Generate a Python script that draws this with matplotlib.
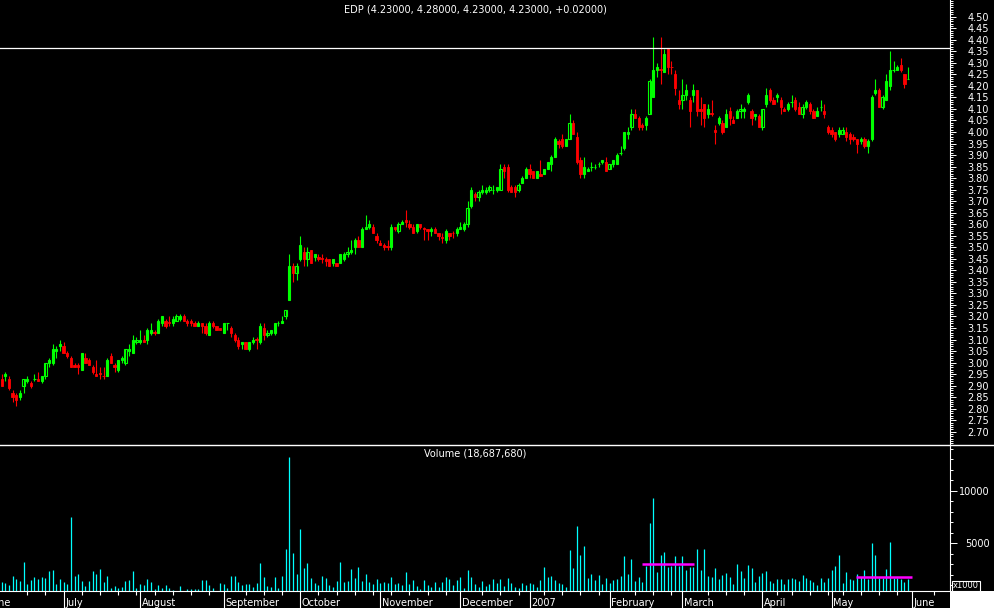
import numpy as np
import pandas as pd
import matplotlib
matplotlib.use("Agg")
import matplotlib.pyplot as plt
from matplotlib.ticker import FixedLocator, MultipleLocator, NullFormatter, FormatStrFormatter
from matplotlib.transforms import blended_transform_factory
from matplotlib.patches import Rectangle
from matplotlib.lines import Line2D

GREEN = "#00ff00"
RED = "#ff0000"
CYAN = "#00ffff"
MAGENTA = "#ff00ff"

# daily OHLC, EDP, 8 Jun 2006 - 31 May 2007
opens = [
    2.93, 2.94, 2.93, 2.87, 2.86, 2.85, 2.90, 2.92, 2.91, 2.93, 2.93, 2.92, 2.94, 3.00, 3.00, 3.05, 3.07, 3.07, 3.04, 3.02,
    2.99, 2.99, 2.97, 3.02, 3.01, 2.98, 2.95, 2.954, 2.944, 2.94, 3.03, 2.99, 2.97, 3.01, 3.00, 3.05, 3.04, 3.09, 3.09, 3.10,
    3.10, 3.13, 3.134, 3.13, 3.17, 3.18, 3.174, 3.17, 3.18, 3.19, 3.20, 3.18, 3.18, 3.17, 3.16, 3.17, 3.16, 3.12, 3.17, 3.16,
    3.15, 3.13, 3.17, 3.15, 3.12, 3.10, 3.08, 3.09, 3.06, 3.09, 3.104, 3.09, 3.15, 3.12, 3.13, 3.13, 3.17, 3.17, 3.20, 3.27,
    3.42, 3.39, 3.45, 3.48, 3.45, 3.49, 3.46, 3.46, 3.454, 3.45, 3.45, 3.43, 3.43, 3.43, 3.45, 3.47, 3.48, 3.50, 3.53, 3.50,
    3.58, 3.59, 3.59, 3.55, 3.52, 3.51, 3.504, 3.50, 3.59, 3.57, 3.60, 3.62, 3.60, 3.59, 3.57, 3.60, 3.584, 3.58, 3.57, 3.58,
    3.56, 3.544, 3.53, 3.56, 3.564, 3.56, 3.58, 3.58, 3.60, 3.68, 3.73, 3.72, 3.74, 3.74, 3.75, 3.75, 3.75, 3.75, 3.85, 3.85,
    3.76, 3.76, 3.75, 3.78, 3.80, 3.84, 3.83, 3.80, 3.82, 3.82, 3.84, 3.86, 3.89, 3.96, 3.97, 3.94, 3.97, 4.04, 3.98, 3.88,
    3.82, 3.83, 3.85, 3.85, 3.86, 3.87, 3.87, 3.84, 3.86, 3.86, 3.91, 3.93, 3.99, 4.02, 4.08, 4.06, 4.03, 4.03, 4.08, 4.15,
    4.27, 4.274, 4.26, 4.36, 4.284, 4.25, 4.14, 4.14, 4.16, 4.14, 4.16, 4.18, 4.10, 4.12, 4.08, 4.084, 4.01, 4.04, 4.04, 4.02,
    4.09, 4.05, 4.06, 4.09, 4.09, 4.13, 4.09, 4.07, 4.07, 4.02, 4.12, 4.18, 4.14, 4.15, 4.14, 4.10, 4.10, 4.13, 4.14, 4.11,
    4.08, 4.11, 4.12, 4.09, 4.07, 4.11, 4.09, 4.02, 4.01, 4.00, 3.99, 3.99, 4.00, 3.99, 3.98, 3.97, 3.96, 3.97, 3.94, 3.97,
    4.17, 4.18, 4.11, 4.14, 4.20, 4.27, 4.27, 4.29, 4.25, 4.23,
]
highs = [
    2.95, 2.96, 2.94, 2.88, 2.87, 2.88, 2.93, 2.94, 2.92, 2.95, 2.96, 2.94, 3.00, 3.02, 3.08, 3.07, 3.10, 3.09, 3.05, 3.03,
    3.00, 3.00, 3.04, 3.04, 3.02, 2.99, 3.01, 2.98, 2.98, 3.02, 3.04, 3.00, 3.01, 3.03, 3.06, 3.08, 3.12, 3.11, 3.14, 3.12,
    3.15, 3.17, 3.14, 3.19, 3.20, 3.19, 3.20, 3.20, 3.21, 3.21, 3.21, 3.19, 3.19, 3.18, 3.18, 3.17, 3.17, 3.18, 3.18, 3.16,
    3.15, 3.17, 3.17, 3.16, 3.13, 3.11, 3.09, 3.09, 3.09, 3.11, 3.11, 3.17, 3.17, 3.14, 3.14, 3.17, 3.18, 3.20, 3.23, 3.47,
    3.43, 3.43, 3.55, 3.50, 3.50, 3.49, 3.47, 3.47, 3.47, 3.46, 3.45, 3.45, 3.43, 3.47, 3.48, 3.50, 3.53, 3.54, 3.55, 3.59,
    3.64, 3.62, 3.60, 3.56, 3.53, 3.52, 3.53, 3.60, 3.59, 3.61, 3.62, 3.66, 3.62, 3.60, 3.60, 3.60, 3.59, 3.58, 3.59, 3.59,
    3.56, 3.56, 3.58, 3.56, 3.57, 3.59, 3.61, 3.61, 3.70, 3.76, 3.74, 3.75, 3.77, 3.76, 3.77, 3.77, 3.76, 3.86, 3.86, 3.86,
    3.77, 3.77, 3.78, 3.81, 3.85, 3.86, 3.83, 3.83, 3.88, 3.84, 3.87, 3.90, 3.98, 3.97, 3.99, 3.97, 4.08, 4.05, 4.00, 3.89,
    3.89, 3.85, 3.87, 3.86, 3.87, 3.88, 3.89, 3.86, 3.88, 3.91, 3.94, 4.00, 4.02, 4.10, 4.10, 4.07, 4.04, 4.07, 4.23, 4.41,
    4.30, 4.41, 4.36, 4.36, 4.31, 4.27, 4.18, 4.23, 4.21, 4.15, 4.21, 4.18, 4.15, 4.12, 4.12, 4.14, 4.03, 4.07, 4.05, 4.10,
    4.11, 4.07, 4.10, 4.12, 4.11, 4.17, 4.10, 4.08, 4.08, 4.10, 4.19, 4.19, 4.15, 4.17, 4.15, 4.11, 4.13, 4.16, 4.15, 4.13,
    4.12, 4.14, 4.13, 4.10, 4.11, 4.14, 4.12, 4.03, 4.02, 4.00, 4.02, 4.02, 4.02, 4.00, 3.99, 3.97, 3.98, 3.98, 3.97, 4.16,
    4.23, 4.19, 4.16, 4.25, 4.35, 4.31, 4.29, 4.32, 4.25, 4.28,
]
lows = [
    2.90, 2.92, 2.88, 2.83, 2.81, 2.84, 2.87, 2.91, 2.89, 2.92, 2.92, 2.91, 2.93, 2.98, 2.99, 3.02, 3.05, 3.04, 3.02, 2.98,
    2.98, 2.95, 2.97, 3.00, 2.99, 2.95, 2.94, 2.93, 2.93, 2.94, 3.00, 2.96, 2.96, 3.00, 2.99, 3.03, 3.04, 3.08, 3.08, 3.09,
    3.08, 3.12, 3.12, 3.13, 3.16, 3.15, 3.16, 3.16, 3.18, 3.18, 3.18, 3.16, 3.16, 3.16, 3.16, 3.13, 3.12, 3.12, 3.15, 3.14,
    3.14, 3.13, 3.14, 3.11, 3.09, 3.06, 3.06, 3.06, 3.05, 3.08, 3.06, 3.08, 3.10, 3.11, 3.12, 3.12, 3.16, 3.17, 3.19, 3.27,
    3.35, 3.36, 3.44, 3.42, 3.42, 3.43, 3.44, 3.44, 3.43, 3.42, 3.42, 3.42, 3.42, 3.43, 3.44, 3.46, 3.47, 3.47, 3.50, 3.50,
    3.58, 3.58, 3.56, 3.52, 3.51, 3.49, 3.49, 3.49, 3.57, 3.56, 3.60, 3.59, 3.58, 3.56, 3.56, 3.58, 3.53, 3.53, 3.55, 3.56,
    3.53, 3.52, 3.52, 3.53, 3.54, 3.55, 3.58, 3.57, 3.59, 3.67, 3.70, 3.70, 3.73, 3.73, 3.74, 3.73, 3.74, 3.75, 3.80, 3.74,
    3.74, 3.72, 3.74, 3.78, 3.80, 3.80, 3.80, 3.80, 3.81, 3.82, 3.84, 3.83, 3.89, 3.93, 3.93, 3.94, 3.97, 3.99, 3.86, 3.80,
    3.80, 3.83, 3.83, 3.84, 3.85, 3.86, 3.83, 3.84, 3.85, 3.86, 3.90, 3.92, 3.97, 4.01, 4.06, 4.01, 4.01, 4.01, 4.08, 4.15,
    4.24, 4.21, 4.26, 4.25, 4.25, 4.16, 4.10, 4.10, 4.14, 4.02, 4.13, 4.07, 4.03, 4.02, 4.06, 4.07, 3.95, 4.03, 3.99, 4.02,
    4.03, 4.04, 4.06, 4.06, 4.06, 4.12, 4.03, 4.05, 4.02, 4.01, 4.11, 4.13, 4.12, 4.13, 4.08, 4.09, 4.09, 4.11, 4.09, 4.08,
    4.06, 4.10, 4.08, 4.06, 4.07, 4.09, 4.06, 3.99, 3.98, 3.96, 3.98, 3.99, 3.96, 3.95, 3.96, 3.91, 3.95, 3.93, 3.91, 3.96,
    4.16, 4.11, 4.10, 4.14, 4.18, 4.26, 4.27, 4.26, 4.19, 4.23,
]
closes = [
    2.90, 2.95, 2.89, 2.85, 2.84, 2.87, 2.93, 2.93, 2.90, 2.93, 2.92, 2.94, 3.00, 3.01, 3.06, 3.06, 3.08, 3.04, 3.03, 2.98,
    2.98, 2.98, 3.04, 3.00, 2.99, 2.96, 2.94, 2.95, 2.94, 3.01, 3.00, 2.98, 3.01, 3.02, 3.06, 3.06, 3.10, 3.10, 3.10, 3.09,
    3.14, 3.14, 3.13, 3.18, 3.20, 3.16, 3.17, 3.19, 3.20, 3.20, 3.18, 3.17, 3.17, 3.16, 3.17, 3.16, 3.13, 3.17, 3.16, 3.14,
    3.14, 3.17, 3.17, 3.13, 3.10, 3.07, 3.09, 3.06, 3.09, 3.10, 3.10, 3.16, 3.12, 3.13, 3.14, 3.17, 3.17, 3.18, 3.23, 3.42,
    3.39, 3.42, 3.51, 3.45, 3.48, 3.43, 3.47, 3.45, 3.45, 3.44, 3.42, 3.45, 3.42, 3.47, 3.47, 3.48, 3.49, 3.53, 3.50, 3.58,
    3.59, 3.60, 3.56, 3.53, 3.51, 3.50, 3.50, 3.59, 3.58, 3.60, 3.61, 3.61, 3.59, 3.56, 3.60, 3.59, 3.58, 3.57, 3.58, 3.56,
    3.55, 3.54, 3.57, 3.55, 3.56, 3.58, 3.59, 3.60, 3.67, 3.75, 3.72, 3.74, 3.75, 3.75, 3.76, 3.75, 3.76, 3.84, 3.83, 3.75,
    3.74, 3.74, 3.77, 3.80, 3.84, 3.82, 3.80, 3.83, 3.81, 3.84, 3.87, 3.89, 3.97, 3.95, 3.94, 3.97, 4.04, 3.99, 3.87, 3.82,
    3.85, 3.84, 3.85, 3.85, 3.86, 3.88, 3.83, 3.86, 3.88, 3.90, 3.91, 4.00, 4.00, 4.08, 4.06, 4.02, 4.02, 4.06, 4.22, 4.27,
    4.28, 4.27, 4.34, 4.28, 4.28, 4.19, 4.12, 4.16, 4.18, 4.09, 4.18, 4.09, 4.09, 4.06, 4.10, 4.08, 4.00, 4.06, 4.00, 4.08,
    4.06, 4.04, 4.09, 4.10, 4.10, 4.16, 4.06, 4.08, 4.02, 4.10, 4.16, 4.14, 4.12, 4.16, 4.11, 4.09, 4.12, 4.13, 4.10, 4.08,
    4.11, 4.13, 4.09, 4.06, 4.09, 4.11, 4.08, 4.00, 3.99, 3.97, 4.01, 4.01, 3.98, 3.97, 3.97, 3.95, 3.97, 3.94, 3.96, 4.15,
    4.18, 4.11, 4.15, 4.22, 4.27, 4.27, 4.28, 4.27, 4.21, 4.23,
]
# daily volume, thousands of shares
volumes = [
    1353, 1258, 1036, 1892, 1607, 1417, 3223, 1131, 1512, 1797, 1607, 1797, 1702, 2368, 2463, 1131, 1607, 1322, 1131, 7500,
    1892, 2083, 1417, 941, 1417, 2368, 2083, 2558, 1322, 1892, 751, 941, 751, 846, 1417, 1512, 2368, 751, 1131, 1036,
    1607, 1322, 656, 1036, 751, 1036, 751, 561, 400, 941, 400, 656, 656, 656, 656, 1512, 1512, 1036, 751, 400,
    1226, 1131, 751, 1892, 1892, 1322, 1036, 1131, 1131, 846, 1226, 3128, 1797, 941, 846, 1797, 751, 1892, 4459, 13175,
    4078, 2083, 6360, 2653, 3128, 1702, 1226, 1036, 1892, 1702, 1036, 846, 1417, 3223, 1322, 1417, 2558, 1702, 2748, 1417,
    2083, 1322, 1131, 1607, 1226, 1322, 1226, 1797, 1131, 1226, 1036, 2272, 1131, 1512, 941, 656, 1512, 1036, 846, 1322,
    846, 1322, 1797, 1607, 1036, 1512, 1797, 751, 2463, 1797, 1131, 846, 1417, 941, 1131, 1607, 1226, 1607, 941, 1702,
    1226, 846, 751, 1226, 1036, 1226, 1131, 846, 1512, 2747, 1797, 1892, 1512, 1226, 1131, 846, 4363, 2652, 6645, 3888,
    4743, 1702, 2082, 1512, 1987, 1131, 1702, 1226, 1512, 1607, 1892, 3793, 2082, 3508, 1416, 1797, 1321, 2842, 6930, 9306,
    2272, 3888, 4173, 2747, 2842, 3793, 2842, 3793, 2462, 2747, 2747, 4458, 2462, 4458, 1892, 1797, 2652, 1607, 1987, 2177,
    1797, 1131, 3032, 2367, 1702, 2937, 2652, 1321, 1892, 2177, 2367, 1416, 1226, 1607, 1607, 1131, 1607, 1702, 1607, 1416,
    1987, 1702, 1512, 1321, 1036, 1702, 1321, 1702, 2462, 2842, 3888, 1226, 2272, 1607, 1512, 2082, 1797, 2462, 1607, 5029,
    3888, 1702, 1702, 2557, 5124, 1702, 1702, 1607, 1321, 1607,
]
# average-volume markers: (first bar, last bar, level)
avg_volume = [(175.8, 190.2, 3000), (234.6, 250.2, 1770)]
resistance = 4.366

title = "EDP (4.23000, 4.28000, 4.23000, 4.23000, +0.02000)"
vol_title = "Volume (18,687,680)"

holidays = pd.to_datetime(["2006-12-25", "2006-12-26", "2007-01-01", "2007-04-06", "2007-04-09", "2007-05-01"])
calendar = pd.bdate_range("2006-06-08", "2007-06-29")
calendar = calendar[~calendar.isin(holidays)]

o = np.array(opens)
h = np.array(highs)
l = np.array(lows)
c = np.array(closes)
v = np.array(volumes)
x = np.arange(len(c))

W, H = 994, 608
PX0, STEP = 1.7, 3.64  # pixel of first bar, pixels per bar
RIGHT = 950


def rect(left, top, right, bottom):
    return [left / W, 1 - bottom / H, (right - left) / W, (bottom - top) / H]


fig = plt.figure(figsize=(W / 100, H / 100), dpi=100, facecolor="black")
ax = fig.add_axes(rect(0, 0, RIGHT, 445), facecolor="black")
axv = fig.add_axes(rect(0, 446, RIGHT, 591), facecolor="black")

xlim = (-PX0 / STEP, (RIGHT - PX0) / STEP)

# candles
up = c >= o
ax.vlines(x, l, h, colors=np.where(up, GREEN, RED), lw=0.8)
ax.bar(x[~up], (o - c)[~up], bottom=c[~up], width=0.62, color=RED, edgecolor=RED, lw=0.6)
ax.bar(x[up], (c - o)[up], bottom=o[up], width=0.62, facecolor="black", edgecolor=GREEN, lw=0.8)
ax.axhline(resistance, color="white", lw=0.9)

ax.set_xlim(*xlim)
ax.set_ylim(2.6427, 4.5724)
ax.set_xticks([])
ax.yaxis.set_major_locator(FixedLocator(np.round(np.arange(2.70, 4.501, 0.05), 2)))
ax.yaxis.set_minor_locator(MultipleLocator(0.01))
ax.yaxis.set_major_formatter(FormatStrFormatter("%.2f"))
ax.yaxis.tick_right()
ax.tick_params(axis="y", which="major", direction="out", length=4, width=0.7, colors="white",
               labelsize=7, pad=24)
ax.tick_params(axis="y", which="minor", direction="out", length=2, width=0.7, colors="white")
for lbl in ax.get_yticklabels():
    lbl.set_horizontalalignment("right")
for side in ["left", "top", "bottom"]:
    ax.spines[side].set_visible(False)
ax.spines["right"].set_color("white")
ax.spines["right"].set_linewidth(0.8)
ax.text(0.5, 1 - 9 / 445, title, transform=ax.transAxes, ha="center", va="center",
        color="white", fontsize=7)

# volume
axv.vlines(x, 0, v, colors=CYAN, lw=0.9)
for x0, x1, level in avg_volume:
    axv.hlines(level, x0, x1, colors=MAGENTA, lw=1.8)
axv.set_xlim(*xlim)
axv.set_ylim(466, 14249)
axv.yaxis.set_major_locator(FixedLocator([5000, 10000]))
axv.yaxis.set_minor_locator(MultipleLocator(1000))
axv.yaxis.set_major_formatter(FormatStrFormatter("%d"))
axv.yaxis.tick_right()
axv.tick_params(axis="y", which="major", direction="out", length=5, width=0.7, colors="white",
                labelsize=7, pad=23.5)
axv.tick_params(axis="y", which="minor", direction="out", length=2.5, width=0.7, colors="white")
for lbl in axv.get_yticklabels():
    lbl.set_horizontalalignment("right")
for side in ["left", "top"]:
    axv.spines[side].set_visible(False)
for side in ["right", "bottom"]:
    axv.spines[side].set_color("white")
    axv.spines[side].set_linewidth(0.8)
axv.text(0.5, (591 - 454) / 145, vol_title, transform=axv.transAxes, ha="center", va="center",
         color="white", fontsize=7)

# date axis: month starts and first trading day of each week
pos = np.arange(len(calendar))
month_start = pos[np.r_[True, calendar.month[1:] != calendar.month[:-1]]]
weeks = calendar.isocalendar().week.values
week_start = pos[np.r_[True, weeks[1:] != weeks[:-1]]]
week_start = [w for w in week_start if not any(0 <= w - m <= 2 for m in month_start)]
axv.xaxis.set_major_locator(FixedLocator(month_start[1:]))
axv.xaxis.set_minor_locator(FixedLocator(week_start))
axv.xaxis.set_major_formatter(NullFormatter())
axv.tick_params(axis="x", which="major", direction="out", length=12.5, width=0.8, colors="white")
axv.tick_params(axis="x", which="minor", direction="out", length=3, width=0.8, colors="white")

trans = blended_transform_factory(axv.transData, axv.transAxes)
# June 2006 sits off the left edge; only its tail shows, as in the source chart
june_start = -np.busday_count("2006-06-01", "2006-06-08") + 1.2
label_pos = [june_start] + list(month_start[1:])
label_dates = [pd.Timestamp("2006-06-01")] + list(calendar[month_start[1:]])
for p, d in zip(label_pos, label_dates):
    name = str(d.year) if d.month == 1 else d.strftime("%B")
    axv.text(p + 0.4, (591 - 602.5) / 145, name, transform=trans, ha="left", va="center",
             color="white", fontsize=7, clip_on=False)

# frame pieces
fig.add_artist(Line2D([0, 1], [1 - 445 / H] * 2, transform=fig.transFigure, color="white", lw=1))
fig.add_artist(Rectangle((RIGHT / W, 0), 1 - RIGHT / W, 17 / H, transform=fig.transFigure,
                         facecolor="white", edgecolor="none"))
fig.text(966 / W, 1 - 586 / H, "x1000", ha="center", va="center", color="white", fontsize=6,
         bbox=dict(boxstyle="square,pad=0.1", facecolor="black", edgecolor="white", lw=0.8))

fig.savefig("out.png", dpi=100, facecolor="black")
